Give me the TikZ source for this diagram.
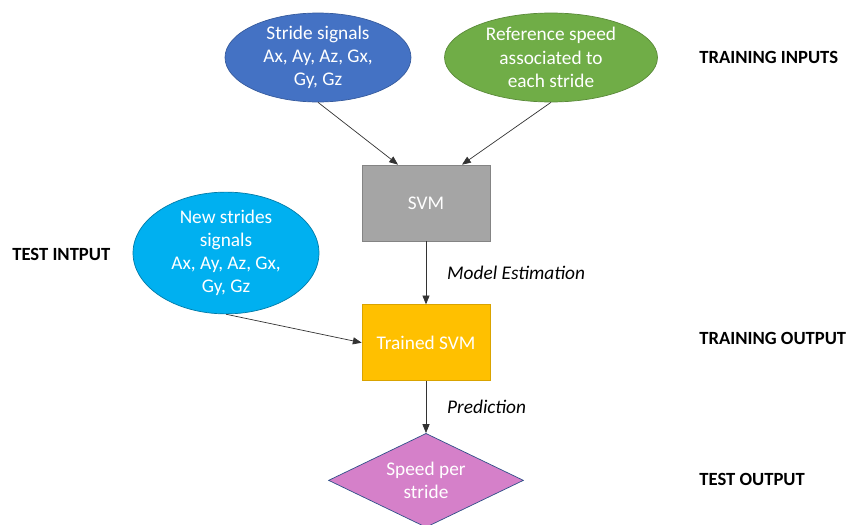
\documentclass[tikz,border=0pt]{standalone}
\usepackage{fontspec}
\setmainfont{Carlito}
\usepackage{xcolor}
\usepackage{tikz}
\usetikzlibrary{arrows.meta,positioning,shapes.geometric}

\definecolor{strideblue}{HTML}{4472C4}
\definecolor{refgreen}{HTML}{70AD47}
\definecolor{svmgrey}{HTML}{A5A5A5}
\definecolor{newcyan}{HTML}{00B0F0}
\definecolor{trainedgold}{HTML}{FFC000}
\definecolor{speedpink}{HTML}{D580C9}

\begin{document}
\begin{tikzpicture}[
        x=0.02cm, y=-0.02cm,
        font=\fontsize{11}{13.2}\selectfont,
        oval/.style={ellipse, draw, thin, text=white, align=center, inner sep=0pt},
        box/.style={rectangle, draw, thin, text=white, align=center, minimum width=2.56cm, minimum height=1.52cm},
        tag/.style={font=\fontsize{10.6}{13}\selectfont\bfseries, anchor=west, inner sep=0pt},
        arr/.style={-{Triangle[length=5pt,width=4pt]}, draw=black!80, thin}
    ]
        \useasboundingbox (0,0) rectangle (848,524);

        \node[oval, fill=strideblue, draw=strideblue!80!black, minimum width=3.72cm, minimum height=1.78cm] (stride) at (318,57.5) {Stride signals\\Ax, Ay, Az, Gx,\\Gy, Gz};
        \node[oval, fill=refgreen, draw=refgreen!80!black, minimum width=4.26cm, minimum height=1.78cm] (refspeed) at (551,57.5) {Reference speed\\associated to\\each stride};
        \node[box, fill=svmgrey, draw=svmgrey!80!black] (svm) at (426,203) {SVM};
        \node[box, fill=trainedgold, draw=trainedgold!85!black, below=1.26cm of svm] (trained) {Trained SVM};
        \node[oval, fill=newcyan, draw=newcyan!70!black, minimum width=3.72cm, minimum height=2.12cm] (newstrides) at (226,253) {New strides\\signals\\Ax, Ay, Az, Gx,\\Gy, Gz};
        \node[diamond, draw=strideblue!70!black, fill=speedpink, text=white, align=center, aspect=2, minimum width=3.9cm, minimum height=1.88cm, inner sep=0pt, below=1.04cm of trained] (speed) {Speed per\\stride};

        \node[tag] (traininputs) at (699,57) {TRAINING INPUTS};
        \node[tag] (testinput) at (12,254) {TEST INTPUT};
        \node[tag] (trainoutput) at (699,338) {TRAINING OUTPUT};
        \node[tag] (testoutput) at (699,479) {TEST OUTPUT};

        \draw[arr] (stride.south) -- ([xshift=-0.56cm]svm.north);
        \draw[arr] (refspeed.south) -- ([xshift=0.72cm]svm.north);
        \draw[arr] (svm) -- (trained) node[midway, right=0.3cm] {\itshape Model Estimation};
        \draw[arr] (newstrides.south) -- (trained.west);
        \draw[arr] (trained) -- (speed) node[midway, right=0.3cm] {\itshape Prediction};
    \end{tikzpicture}
\end{document}
